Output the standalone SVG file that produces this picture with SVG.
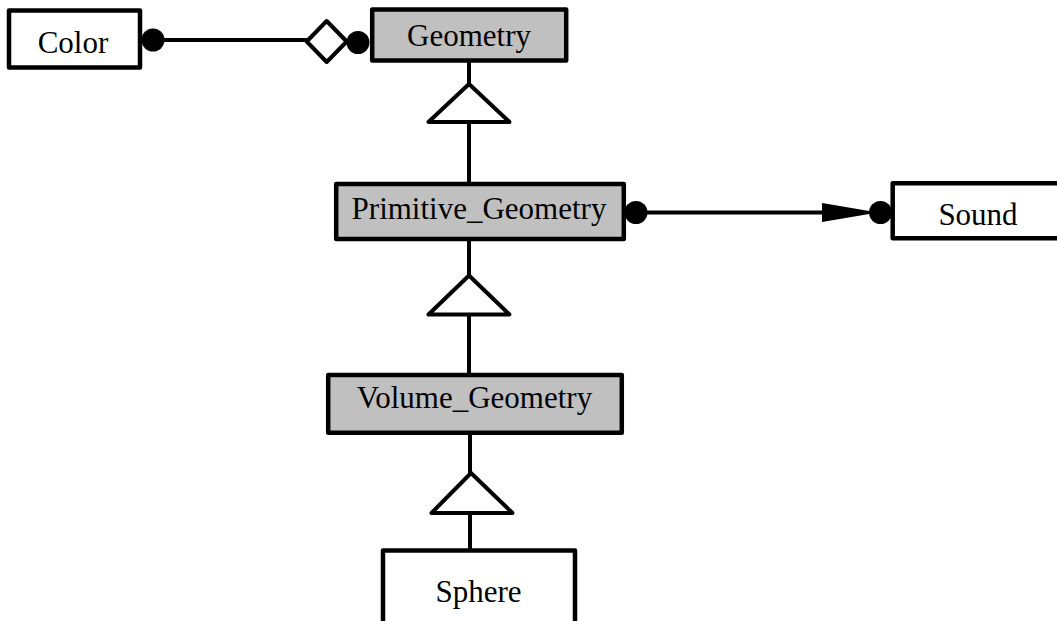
<svg xmlns="http://www.w3.org/2000/svg" width="1057" height="621" viewBox="0 0 1057 621">
<style>
.box{stroke:#000;stroke-width:4.5;stroke-linejoin:round}
.abs{fill:#c0c0c0}
.con{fill:#fff}
.lbl{font-family:"Liberation Serif","Times New Roman",serif;font-size:31px;fill:#000;text-anchor:middle}
.ln{stroke:#000;stroke-width:4;fill:none}
.tri{fill:#fff;stroke:#000;stroke-width:4;stroke-linejoin:round}
.dot{fill:#000}
</style>
<rect width="1057" height="621" fill="#fff"/>
<g id="connectors">
  <line class="ln" x1="153" y1="40" x2="308" y2="40"/>
  <polygon class="tri" points="306.7,41.5 326.7,21 346.7,41.5 326.7,62"/>
  <circle class="dot" cx="153" cy="40" r="11.5"/>
  <circle class="dot" cx="358" cy="42.5" r="11.5"/>
  <line class="ln" x1="469" y1="62" x2="469" y2="184"/>
  <polygon class="tri" points="469,84 428.5,122 509.5,122"/>
  <line class="ln" x1="469" y1="241" x2="469" y2="375"/>
  <polygon class="tri" points="469,275.5 428.5,314.5 509.5,314.5"/>
  <line class="ln" x1="470" y1="434" x2="470" y2="551"/>
  <polygon class="tri" points="471,473 431.5,513 512.5,513"/>
  <line class="ln" x1="636" y1="212.5" x2="825" y2="212.5"/>
  <polygon fill="#000" points="822,203 878,212.5 822,222"/>
  <circle class="dot" cx="636" cy="212.5" r="11.5"/>
  <circle class="dot" cx="880.5" cy="212.5" r="11.5"/>
</g>
<g id="Color">
  <rect class="box con" x="9" y="10.5" width="131" height="57"/>
  <text class="lbl" x="73" y="53">Color</text>
</g>
<g id="Geometry">
  <rect class="box abs" x="372.2" y="9.5" width="194" height="51"/>
  <text class="lbl" x="469" y="46">Geometry</text>
</g>
<g id="Primitive_Geometry">
  <rect class="box abs" x="336.2" y="183.9" width="287.6" height="55"/>
  <text class="lbl" x="479" y="218.5">Primitive_Geometry</text>
</g>
<g id="Sound">
  <rect class="box con" x="892.7" y="183.2" width="200" height="55"/>
  <text class="lbl" x="978" y="225">Sound</text>
</g>
<g id="Volume_Geometry">
  <rect class="box abs" x="328.2" y="374.9" width="293.6" height="57.9"/>
  <text class="lbl" x="474.5" y="408">Volume_Geometry</text>
</g>
<g id="Sphere">
  <rect class="box con" x="383" y="550.5" width="192" height="100"/>
  <text class="lbl" x="478.5" y="601.5">Sphere</text>
</g>
</svg>
